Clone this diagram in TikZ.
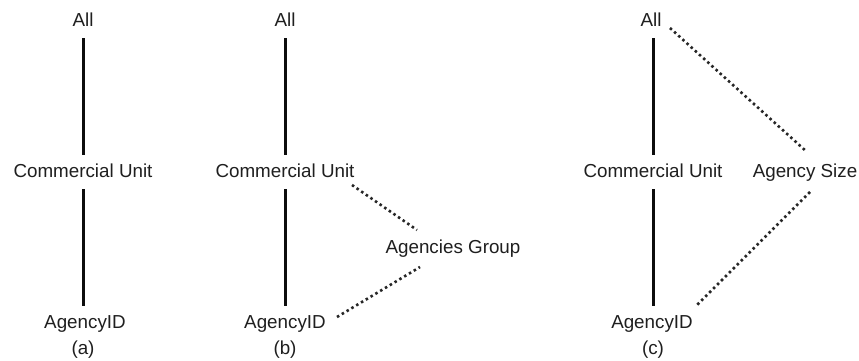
\documentclass[tikz,border=0pt]{standalone}
\usepackage{fontspec}
\setmainfont{Liberation Sans}
\begin{document}
\begin{tikzpicture}[x=1pt,y=1pt,
  lbl/.style={text=black!88, font=\fontsize{18.8}{22}\selectfont, inner xsep=2pt, inner ysep=8pt, text height=14pt, text depth=4pt},
  sublabel/.style={lbl, inner ysep=1pt},
  solidlink/.style={draw=black!95, line width=3pt},
  dotlink/.style={draw=black!85, line width=2.6pt, dash pattern=on 2.5pt off 3.1pt}]
\fill[white] (0,0) rectangle (859,-360);
\useasboundingbox (0,0) rectangle (859,-360);
% (a)
\node[lbl] (Alla) at (83,-21) {All};
\node[lbl] (CUa) at (83,-172) {Commercial Unit};
\node[lbl] (AIDa) at (85,-323) {AgencyID};
\node[sublabel] (La) at (83,-349) {(a)};
\draw[solidlink] (Alla.south) -- (CUa.north);
\draw[solidlink] (CUa.south) -- (CUa.south |- AIDa.north);
% (b)
\node[lbl] (Allb) at (285,-21) {All};
\node[lbl] (CUb) at (285,-172) {Commercial Unit};
\node[lbl] (AIDb) at (285,-323) {AgencyID};
\node[sublabel] (Lb) at (285,-349) {(b)};
\node[lbl] (AG) at (453,-248) {Agencies Group};
\draw[solidlink] (Allb.south) -- (CUb.north);
\draw[solidlink] (CUb.south) -- (AIDb.north);
\draw[dotlink] ([shift={(67,-13)}]CUb.center) -- ([shift={(-36,18)}]AG.center);
\draw[dotlink] ([shift={(52,6)}]AIDb.center) -- ([shift={(-33,-19)}]AG.center);
% (c)
\node[lbl] (Allc) at (651,-21) {All};
\node[lbl] (CUc) at (653,-172) {Commercial Unit};
\node[lbl] (AIDc) at (652,-323) {AgencyID};
\node[sublabel] (Lc) at (653,-349) {(c)};
\node[lbl] (AS) at (805,-172) {Agency Size};
\draw[solidlink] (CUc.north |- Allc.south) -- (CUc.north);
\draw[solidlink] (CUc.south) -- (CUc.south |- AIDc.north);
\draw[dotlink] ([shift={(19,-7)}]Allc.center) -- ([shift={(2,20)}]AS.center);
\draw[dotlink] ([shift={(5,-20)}]AS.center) -- ([shift={(45,18)}]AIDc.center);
\end{tikzpicture}
\end{document}
